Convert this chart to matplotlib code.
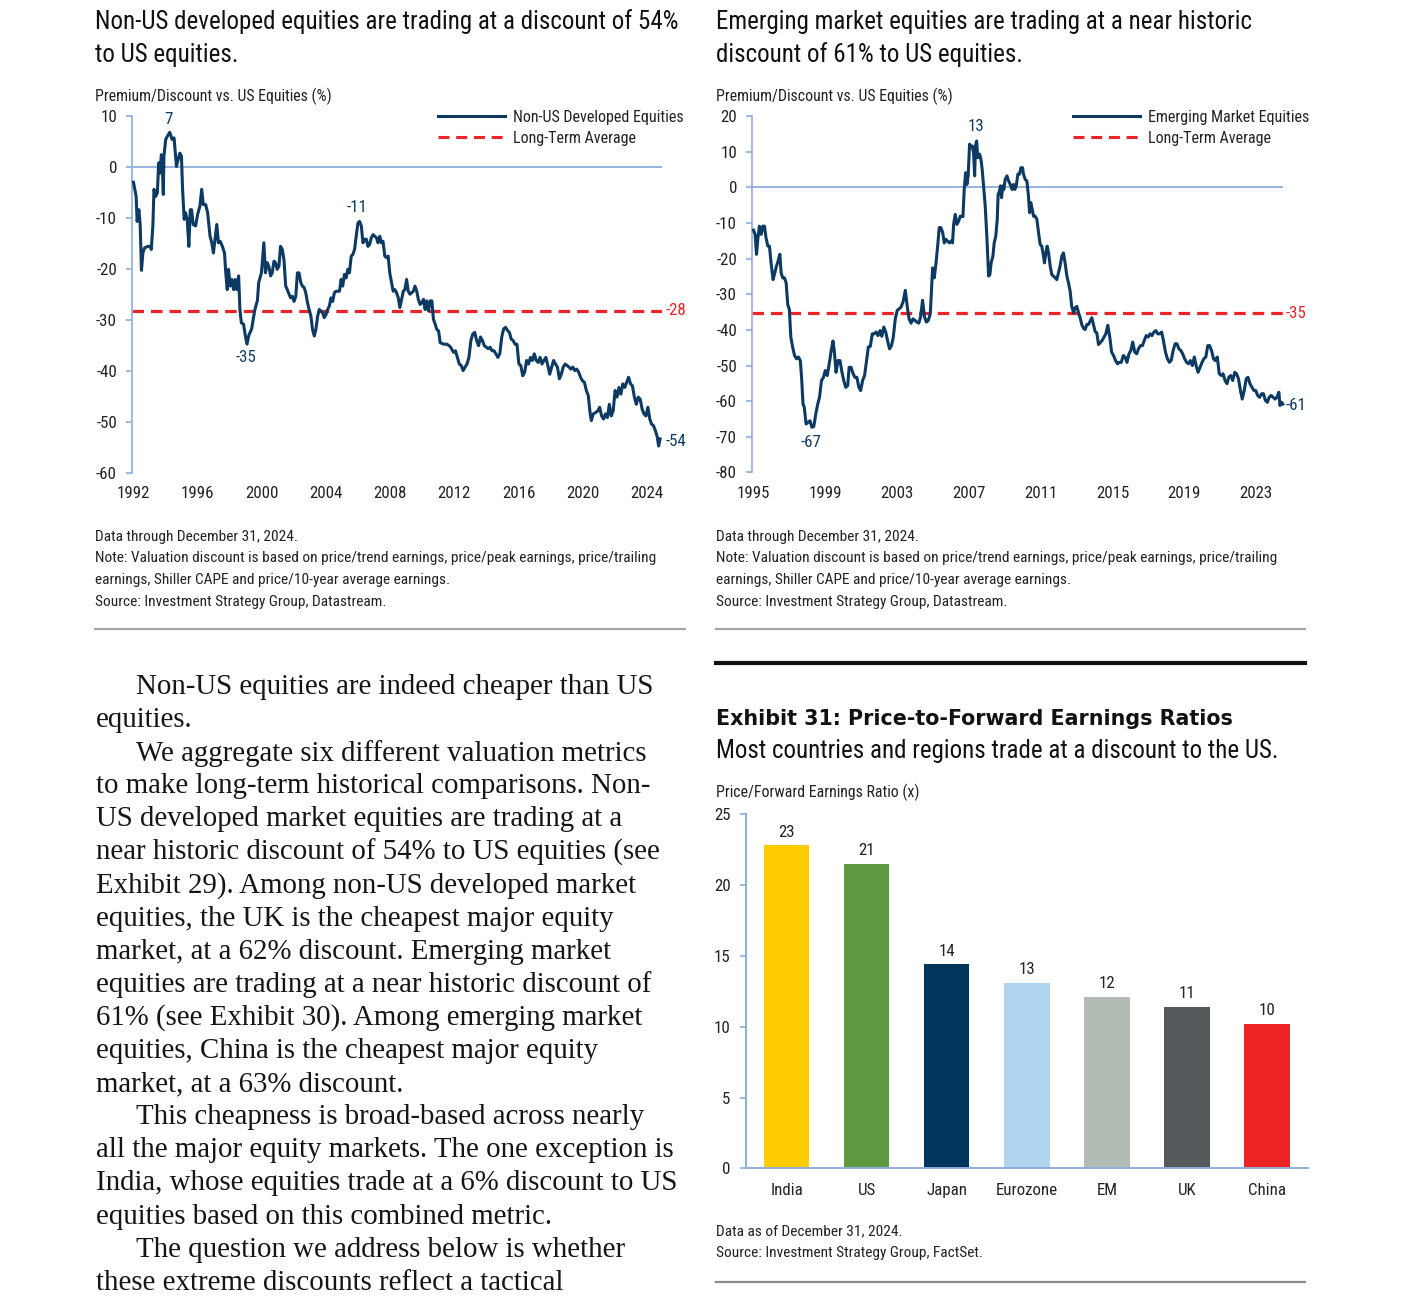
import matplotlib
matplotlib.use('Agg')
import matplotlib.pyplot as plt
from matplotlib import font_manager
from matplotlib.font_manager import FontProperties
from matplotlib.lines import Line2D
from matplotlib.textpath import TextToPath

# page size in pixels
W, H = 1401, 1302

# ---- Exhibit 29: non-US developed vs US (premium/discount, %) ----
dev_years = [
    1992.02, 1992.19, 1992.25, 1992.36, 1992.44, 1992.52, 1992.61, 1992.71, 1992.92, 1993.09,
    1993.13, 1993.23, 1993.30, 1993.40, 1993.51, 1993.59, 1993.67, 1993.76, 1993.84, 1993.88,
    1993.92, 1994.03, 1994.13, 1994.28, 1994.43, 1994.55, 1994.70, 1994.80, 1994.91, 1995.01,
    1995.08, 1995.18, 1995.26, 1995.37, 1995.47, 1995.56, 1995.64, 1995.74, 1995.89, 1996.02,
    1996.16, 1996.27, 1996.37, 1996.52, 1996.64, 1996.79, 1996.90, 1997.00, 1997.10, 1997.21,
    1997.31, 1997.42, 1997.56, 1997.69, 1997.77, 1997.86, 1997.94, 1998.05, 1998.15, 1998.26,
    1998.36, 1998.46, 1998.57, 1998.65, 1998.74, 1998.88, 1998.99, 1999.09, 1999.20, 1999.38,
    1999.57, 1999.74, 1999.82, 1999.99, 2000.14, 2000.24, 2000.35, 2000.45, 2000.56, 2000.66,
    2000.77, 2000.87, 2000.97, 2001.08, 2001.18, 2001.29, 2001.39, 2001.50, 2001.60, 2001.71,
    2001.81, 2001.92, 2002.02, 2002.13, 2002.23, 2002.33, 2002.44, 2002.54, 2002.65, 2002.75,
    2002.86, 2002.96, 2003.07, 2003.17, 2003.28, 2003.38, 2003.49, 2003.59, 2003.69, 2003.80,
    2003.90, 2004.01, 2004.11, 2004.22, 2004.32, 2004.43, 2004.53, 2004.64, 2004.85, 2004.95,
    2005.05, 2005.16, 2005.26, 2005.37, 2005.47, 2005.58, 2005.68, 2005.79, 2005.89, 2006.00,
    2006.10, 2006.21, 2006.31, 2006.41, 2006.52, 2006.62, 2006.73, 2006.83, 2006.94, 2007.04,
    2007.15, 2007.25, 2007.36, 2007.46, 2007.56, 2007.67, 2007.77, 2007.88, 2007.98, 2008.09,
    2008.19, 2008.30, 2008.40, 2008.51, 2008.61, 2008.72, 2008.82, 2008.92, 2009.03, 2009.13,
    2009.24, 2009.34, 2009.45, 2009.55, 2009.66, 2009.76, 2009.87, 2009.97, 2010.08, 2010.18,
    2010.28, 2010.39, 2010.49, 2010.60, 2010.70, 2010.81, 2010.91, 2011.02, 2011.12, 2011.33,
    2011.54, 2011.75, 2011.95, 2012.07, 2012.19, 2012.31, 2012.43, 2012.55, 2012.67, 2012.79,
    2012.91, 2013.03, 2013.15, 2013.27, 2013.39, 2013.51, 2013.63, 2013.75, 2013.87, 2013.99,
    2014.11, 2014.23, 2014.35, 2014.47, 2014.59, 2014.71, 2014.83, 2014.95, 2015.07, 2015.19,
    2015.31, 2015.43, 2015.54, 2015.66, 2015.78, 2015.90, 2016.02, 2016.14, 2016.26, 2016.38,
    2016.50, 2016.62, 2016.74, 2016.86, 2016.98, 2017.10, 2017.22, 2017.34, 2017.46, 2017.58,
    2017.70, 2017.82, 2017.94, 2018.06, 2018.18, 2018.30, 2018.42, 2018.54, 2018.66, 2018.78,
    2018.90, 2019.02, 2019.14, 2019.26, 2019.38, 2019.50, 2019.62, 2019.74, 2019.86, 2019.98,
    2020.10, 2020.22, 2020.34, 2020.46, 2020.53, 2020.65, 2020.81, 2020.93, 2021.05, 2021.17,
    2021.29, 2021.41, 2021.53, 2021.65, 2021.77, 2021.89, 2022.01, 2022.13, 2022.25, 2022.37,
    2022.49, 2022.61, 2022.73, 2022.85, 2022.97, 2023.09, 2023.21, 2023.33, 2023.45, 2023.57,
    2023.69, 2023.81, 2023.93, 2024.05, 2024.17, 2024.28, 2024.40, 2024.52, 2024.64, 2024.72,
    2024.81,
]
dev_values = [
    -3.0, -5.8, -10.7, -8.4, -11.3, -20.3, -16.9, -15.9, -15.6, -15.6,
    -16.2, -11.6, -4.4, -5.8, -5.1, 0.8, -1.2, 2.4, -1.8, -5.4,
    2.1, 5.4, 6.0, 6.8, 5.4, 5.7, 0.1, 1.4, 2.7, 2.1,
    -4.4, -10.3, -9.0, -10.3, -15.6, -8.4, -8.4, -11.3, -11.6, -9.3,
    -7.7, -4.4, -7.4, -7.4, -9.0, -13.6, -14.9, -16.9, -14.2, -11.3,
    -14.9, -14.6, -15.6, -16.9, -20.8, -24.1, -20.1, -23.4, -22.1, -24.1,
    -22.1, -24.1, -21.4, -28.0, -30.6, -30.9, -33.2, -34.8, -33.1, -31.8,
    -28.2, -26.2, -22.7, -20.8, -14.9, -20.8, -18.8, -19.5, -21.4, -20.8,
    -18.5, -18.8, -20.1, -19.5, -15.6, -16.2, -18.2, -23.4, -24.1, -25.0,
    -25.7, -25.4, -26.4, -25.4, -20.8, -20.8, -22.7, -23.4, -23.7, -24.7,
    -26.7, -28.0, -29.3, -31.9, -33.2, -31.9, -29.3, -28.0, -28.3, -28.6,
    -29.6, -29.0, -28.0, -27.3, -25.7, -26.4, -24.7, -24.4, -24.4, -22.1,
    -23.4, -21.1, -21.8, -20.1, -20.8, -17.5, -17.2, -16.2, -13.6, -11.0,
    -10.7, -11.6, -14.9, -14.2, -14.2, -15.6, -15.2, -13.9, -13.3, -13.6,
    -13.9, -14.9, -13.6, -14.9, -14.6, -17.5, -17.8, -17.5, -20.8, -22.7,
    -24.4, -24.1, -24.7, -25.7, -27.6, -26.0, -24.4, -24.1, -22.1, -24.4,
    -25.0, -24.7, -24.4, -23.4, -24.4, -26.0, -27.0, -26.7, -26.0, -28.0,
    -26.3, -28.3, -26.3, -26.3, -29.9, -30.9, -31.9, -32.2, -34.5, -34.8,
    -34.8, -35.3, -36.4, -36.1, -37.4, -38.7, -39.0, -40.0, -39.3, -38.7,
    -37.4, -34.1, -32.8, -32.5, -34.1, -35.1, -33.4, -34.1, -35.1, -35.4,
    -35.7, -35.4, -36.1, -36.1, -36.7, -37.4, -36.7, -33.4, -31.8, -31.5,
    -32.1, -32.5, -33.8, -34.1, -34.8, -34.8, -38.7, -39.0, -41.0, -40.3,
    -38.0, -38.7, -37.4, -38.0, -36.7, -38.0, -38.4, -37.4, -38.7, -38.0,
    -37.4, -39.0, -40.7, -39.3, -38.0, -38.7, -39.3, -41.6, -40.7, -39.3,
    -38.7, -39.0, -39.3, -39.7, -39.3, -40.0, -39.7, -40.3, -41.3, -42.0,
    -42.3, -43.9, -44.9, -48.5, -49.8, -48.5, -48.2, -47.9, -47.2, -48.9,
    -49.5, -48.5, -49.2, -46.6, -48.9, -47.9, -43.9, -45.2, -43.3, -44.6,
    -42.6, -43.3, -42.3, -41.3, -42.6, -43.0, -45.2, -46.6, -45.2, -45.6,
    -47.5, -48.5, -48.9, -47.2, -49.5, -50.5, -50.8, -51.8, -53.1, -54.8,
    -53.4,
]
dev_average = -28.2

# ---- Exhibit 30: emerging markets vs US (premium/discount, %) ----
em_years = [
    1995.00, 1995.09, 1995.17, 1995.24, 1995.33, 1995.43, 1995.52, 1995.61, 1995.70, 1995.80,
    1995.89, 1995.98, 1996.09, 1996.19, 1996.28, 1996.37, 1996.47, 1996.54, 1996.63, 1996.73,
    1996.82, 1996.91, 1997.00, 1997.08, 1997.18, 1997.29, 1997.40, 1997.50, 1997.61, 1997.68,
    1997.76, 1997.83, 1997.93, 1998.04, 1998.15, 1998.25, 1998.36, 1998.47, 1998.58, 1998.68,
    1998.79, 1998.90, 1999.00, 1999.11, 1999.22, 1999.33, 1999.43, 1999.50, 1999.60, 1999.71,
    1999.82, 1999.93, 2000.03, 2000.14, 2000.25, 2000.33, 2000.44, 2000.55, 2000.65, 2000.76,
    2000.87, 2000.97, 2001.08, 2001.19, 2001.30, 2001.40, 2001.51, 2001.62, 2001.72, 2001.83,
    2001.94, 2002.05, 2002.15, 2002.26, 2002.37, 2002.47, 2002.58, 2002.69, 2002.79, 2002.90,
    2003.01, 2003.12, 2003.22, 2003.33, 2003.46, 2003.57, 2003.67, 2003.78, 2003.89, 2003.99,
    2004.10, 2004.21, 2004.31, 2004.42, 2004.53, 2004.63, 2004.74, 2004.85, 2004.98, 2005.07,
    2005.17, 2005.26, 2005.35, 2005.44, 2005.54, 2005.63, 2005.72, 2005.81, 2005.91, 2006.00,
    2006.09, 2006.15, 2006.24, 2006.33, 2006.43, 2006.52, 2006.67, 2006.74, 2006.82, 2006.89,
    2006.96, 2007.04, 2007.11, 2007.19, 2007.26, 2007.32, 2007.37, 2007.43, 2007.50, 2007.60,
    2007.67, 2007.74, 2007.82, 2007.91, 2008.00, 2008.10, 2008.17, 2008.24, 2008.34, 2008.41,
    2008.50, 2008.58, 2008.63, 2008.71, 2008.76, 2008.82, 2008.89, 2008.95, 2009.02, 2009.12,
    2009.21, 2009.26, 2009.34, 2009.41, 2009.49, 2009.56, 2009.64, 2009.73, 2009.82, 2009.90,
    2009.99, 2010.04, 2010.14, 2010.23, 2010.32, 2010.38, 2010.45, 2010.53, 2010.60, 2010.69,
    2010.79, 2010.88, 2010.97, 2011.06, 2011.16, 2011.21, 2011.29, 2011.36, 2011.44, 2011.53,
    2011.62, 2011.71, 2011.81, 2011.90, 2011.99, 2012.08, 2012.18, 2012.27, 2012.36, 2012.46,
    2012.55, 2012.64, 2012.73, 2012.83, 2012.92, 2013.01, 2013.11, 2013.20, 2013.29, 2013.38,
    2013.48, 2013.57, 2013.66, 2013.75, 2013.85, 2013.94, 2014.03, 2014.13, 2014.22, 2014.42,
    2014.53, 2014.63, 2014.74, 2014.85, 2014.95, 2015.06, 2015.17, 2015.28, 2015.38, 2015.49,
    2015.60, 2015.70, 2015.81, 2015.92, 2016.02, 2016.13, 2016.24, 2016.35, 2016.45, 2016.56,
    2016.67, 2016.77, 2016.88, 2016.99, 2017.10, 2017.20, 2017.31, 2017.42, 2017.52, 2017.63,
    2017.74, 2017.84, 2017.95, 2018.06, 2018.17, 2018.27, 2018.38, 2018.49, 2018.59, 2018.70,
    2018.81, 2018.91, 2019.02, 2019.13, 2019.24, 2019.34, 2019.45, 2019.56, 2019.66, 2019.77,
    2019.88, 2019.99, 2020.09, 2020.20, 2020.31, 2020.41, 2020.52, 2020.63, 2020.73, 2020.84,
    2020.95, 2021.06, 2021.16, 2021.27, 2021.38, 2021.48, 2021.59, 2021.70, 2021.81, 2021.91,
    2022.02, 2022.13, 2022.23, 2022.34, 2022.45, 2022.55, 2022.66, 2022.77, 2022.88, 2022.98,
    2023.09, 2023.20, 2023.31, 2023.41, 2023.52, 2023.63, 2023.73, 2023.84, 2023.95, 2024.06,
    2024.16, 2024.27, 2024.33, 2024.42, 2024.49,
]
em_values = [
    -12.0, -13.2, -18.8, -14.6, -10.9, -13.2, -10.9, -10.9, -14.2, -16.5,
    -16.5, -21.2, -25.9, -24.0, -22.1, -20.7, -18.8, -24.0, -25.4, -25.4,
    -26.8, -32.9, -34.3, -42.0, -44.8, -47.2, -48.1, -47.6, -48.6, -53.3,
    -60.8, -61.7, -66.4, -65.9, -65.5, -67.3, -67.1, -63.6, -60.8, -58.9,
    -54.2, -53.3, -51.4, -52.8, -49.5, -45.8, -43.1, -45.8, -51.9, -48.6,
    -48.6, -51.9, -54.2, -56.1, -55.6, -50.5, -50.5, -52.3, -53.3, -53.3,
    -56.1, -57.0, -54.2, -52.8, -48.6, -44.8, -44.6, -41.1, -41.1, -40.6,
    -41.6, -40.2, -41.8, -39.2, -40.6, -43.0, -45.3, -44.4, -42.0, -36.9,
    -34.5, -34.1, -33.6, -32.2, -28.9, -33.6, -36.9, -38.1, -36.9, -37.3,
    -37.8, -38.1, -36.4, -31.7, -36.4, -37.8, -37.3, -35.5, -22.6, -25.4,
    -21.2, -16.5, -11.3, -11.3, -12.7, -15.6, -14.6, -15.1, -15.6, -15.1,
    -15.6, -10.4, -7.6, -10.4, -9.5, -8.1, -8.2, -0.6, 4.1, 0.8,
    3.2, 12.1, 11.2, 11.6, 9.7, 3.2, 11.6, 13.0, 8.3, 9.3,
    7.9, 5.1, 0.4, -5.2, -13.7, -24.9, -24.5, -21.2, -19.3, -15.6,
    -13.7, -9.0, -2.0, -1.0, 0.4, -2.9, 0.4, -0.6, 2.2, 3.2,
    1.8, 1.3, 0.4, -0.6, 0.8, -0.6, 0.4, 3.7, 3.7, 5.5,
    5.5, 3.7, 2.2, 1.8, -2.4, -7.1, -4.3, -6.2, -8.1, -8.1,
    -9.0, -12.7, -16.0, -16.5, -19.3, -21.2, -18.4, -16.5, -18.4, -22.1,
    -24.5, -24.9, -25.4, -25.9, -24.0, -22.1, -19.3, -18.4, -21.2, -24.9,
    -26.8, -29.1, -33.4, -35.2, -33.8, -33.4, -35.2, -36.6, -38.5, -39.5,
    -39.9, -38.5, -38.5, -37.6, -36.6, -38.5, -40.4, -40.9, -44.1, -43.0,
    -42.0, -41.1, -38.7, -42.0, -46.2, -47.2, -48.6, -49.5, -49.1, -49.1,
    -47.2, -47.6, -49.1, -46.7, -45.8, -43.4, -46.2, -46.7, -45.3, -44.4,
    -44.4, -43.0, -41.6, -42.0, -41.1, -41.6, -40.6, -40.2, -41.1, -41.1,
    -40.6, -43.0, -46.2, -48.1, -49.1, -48.6, -45.8, -43.9, -43.9, -45.3,
    -45.8, -46.7, -48.1, -49.1, -49.5, -48.6, -50.0, -47.6, -50.0, -51.9,
    -50.5, -49.1, -48.1, -47.6, -44.4, -44.4, -45.8, -48.1, -48.6, -47.6,
    -52.3, -52.8, -52.3, -54.2, -55.1, -53.3, -52.8, -54.2, -51.9, -52.3,
    -53.7, -57.0, -59.4, -57.0, -53.7, -53.3, -55.1, -56.1, -57.0, -57.0,
    -58.4, -58.9, -57.9, -57.9, -59.8, -60.3, -58.9, -58.4, -58.9, -59.4,
    -58.9, -57.5, -61.2, -60.3, -60.8,
]
em_average = -35.3

# ---- Exhibit 31: price / forward earnings ----
countries = ['India', 'US', 'Japan', 'Eurozone', 'EM', 'UK', 'China']
pe_ratios = [22.8, 21.5, 14.4, 13.1, 12.1, 11.4, 10.2]
pe_labels = ['23', '21', '14', '13', '12', '11', '10']
bar_colors = ['#FFCC00', '#5E9941', '#00365E', '#AED4F0', '#B2BBB4', '#56595C', '#EE2326']

NAVY = '#0c3a63'
RED = '#ec2329'
AXIS = '#8eaedc'
TXT = '#222222'


def find_font(family, stretch='normal', must=None):
    try:
        path = font_manager.findfont(FontProperties(family=family, stretch=stretch),
                                     fallback_to_default=False)
    except Exception:
        return False
    return must is None or must.lower() in path.lower()


# a narrow sans is closest to the original; fall back to Roboto
SANS, STRETCH = 'Roboto', 'normal'
for fam, st, must in [('Liberation Sans Narrow', 'normal', None),
                      ('Liberation Sans', 'condensed', 'narrow'),
                      ('Roboto Condensed', 'normal', None),
                      ('Noto Sans', 'condensed', 'condensed'),
                      ('DejaVu Sans', 'condensed', 'condensed')]:
    if find_font(fam, st, must):
        SANS, STRETCH = fam, st
        break
SERIF = 'Liberation Serif' if find_font('Liberation Serif') else 'DejaVu Serif'

plt.rcParams['font.family'] = SANS
plt.rcParams['font.stretch'] = STRETCH
plt.rcParams['text.color'] = TXT
plt.rcParams['axes.unicode_minus'] = False

_ttp = TextToPath()


def fit(s, px, **props):
    # font size (pt) that makes string s about px pixels wide at dpi 100
    fp = FontProperties(size=10, **props)
    w, _, _ = _ttp.get_text_width_height_descent(s, fp, ismath=False)
    return 10 * px / (w * 100 / 72)


sans = dict(family=SANS, stretch=STRETCH)
TITLE_FS = fit('Non-US developed equities are trading at a discount of 54%', 583, **sans)
K = TITLE_FS / 17.0
NOTE_FS = fit('Note: Valuation discount is based on price/trend earnings, price/peak earnings, price/trailing', 562, **sans)
LABEL_FS = fit('Premium/Discount vs. US Equities (%)', 237, **sans)
LEG_FS = fit('Non-US Developed Equities', 171, **sans)
TICK_FS = 11.5 * K
BODY_FS = fit('all the major equity markets. The one exception is', 578, family=SERIF)
BOLD_FS = fit('Exhibit 31: Price-to-Forward Earnings Ratios', 516, family='DejaVu Sans', weight='bold')

fig = plt.figure(figsize=(W / 100, H / 100), dpi=100)


def put(x, y, s, **kw):
    kw.setdefault('va', 'center')
    fig.text(x / W, 1 - y / H, s, **kw)


def rule(x0, x1, y, color, lw):
    fig.add_artist(Line2D([x0 / W, x1 / W], [1 - y / H, 1 - y / H], color=color, lw=lw))


def px_axes(left, top, right, bottom):
    return fig.add_axes([left / W, 1 - bottom / H, (right - left) / W, (bottom - top) / H])


def style_line_axes(ax):
    for side in ('top', 'right', 'bottom'):
        ax.spines[side].set_visible(False)
    ax.spines['left'].set_color(AXIS)
    ax.spines['left'].set_linewidth(1.2)
    ax.tick_params(axis='y', direction='out', length=4, width=1.2, color=AXIS,
                   labelsize=TICK_FS, labelcolor=TXT, pad=6.5)
    ax.tick_params(axis='x', length=0, labelsize=TICK_FS, labelcolor=TXT, pad=9.5)
    ax.set_facecolor('none')


def line_chart(ax, years, values, avg, ylim, xlim, xticks):
    ax.axhline(0, color=AXIS, lw=1.3, zorder=1)
    ax.axhline(avg, color=RED, lw=2.3, ls=(0, (3.6, 2.2)), zorder=2)
    ax.plot(years, values, color=NAVY, lw=2.2, zorder=3, solid_joinstyle='round', clip_on=False)
    ax.set_xlim(*xlim)
    ax.set_ylim(*ylim)
    ax.set_yticks(range(ylim[0], ylim[1] + 1, 10))
    ax.set_xticks(xticks)
    ax.set_xticklabels([str(y) for y in xticks])
    style_line_axes(ax)


def legend(x, y, label):
    handles = [Line2D([], [], color=NAVY, lw=2.2),
               Line2D([], [], color=RED, lw=2.2, ls=(0, (3.6, 2.2)))]
    fig.legend(handles, [label, 'Long-Term Average'], loc='upper left',
               bbox_to_anchor=(x / W, 1 - y / H), frameon=False, borderpad=0,
               borderaxespad=0, handlelength=48 / LEG_FS, handletextpad=5.8 / LEG_FS,
               labelspacing=0.36, prop={'family': SANS, 'stretch': STRETCH, 'size': LEG_FS})


ANN_FS = TICK_FS
ann = dict(fontsize=ANN_FS, color=NAVY, ha='center', va='center')

# ---------- left chart ----------
put(95, 22, 'Non-US developed equities are trading at a discount of 54%', fontsize=TITLE_FS, color='#111111')
put(95, 55, 'to US equities.', fontsize=TITLE_FS, color='#111111')
put(95, 96, 'Premium/Discount vs. US Equities (%)', fontsize=LABEL_FS)

ax1 = px_axes(131.5, 116, 662, 472.5)
line_chart(ax1, dev_years, dev_values, dev_average,
           (-60, 10), (1991.90, 2024.93), list(range(1992, 2025, 4)))
legend(438, 110, 'Non-US Developed Equities')
ax1.text(1994.18, 9.3, '7', **ann)
ax1.text(2005.95, -8.0, '-11', **ann)
ax1.text(1999.04, -37.4, '-35', **ann)
ax1.text(2025.13, -53.9, '-54', fontsize=ANN_FS, color=NAVY, ha='left', va='center', clip_on=False)
ax1.text(2025.13, dev_average, '-28', fontsize=ANN_FS, color=RED, ha='left', va='center', clip_on=False)

# ---------- right chart ----------
put(716, 22, 'Emerging market equities are trading at a near historic', fontsize=TITLE_FS, color='#111111')
put(716, 55, 'discount of 61% to US equities.', fontsize=TITLE_FS, color='#111111')
put(716, 96, 'Premium/Discount vs. US Equities (%)', fontsize=LABEL_FS)

ax2 = px_axes(751.5, 116, 1283, 472.5)
line_chart(ax2, em_years, em_values, em_average,
           (-80, 20), (1994.89, 2024.50), list(range(1995, 2024, 4)))
legend(1073, 110, 'Emerging Market Equities')
ax2.text(2007.40, 17.1, '13', **ann)
ax2.text(1998.20, -71.6, '-67', **ann)
ax2.text(2024.62, -61.2, '-61', fontsize=ANN_FS, color=NAVY, ha='left', va='center', clip_on=False)
ax2.text(2024.62, em_average, '-35', fontsize=ANN_FS, color=RED, ha='left', va='center', clip_on=False)

# ---------- notes under both line charts ----------
notes = ['Data through December 31, 2024.',
         'Note: Valuation discount is based on price/trend earnings, price/peak earnings, price/trailing',
         'earnings, Shiller CAPE and price/10-year average earnings.',
         'Source: Investment Strategy Group, Datastream.']
for x0 in (95, 716):
    for i, s in enumerate(notes):
        put(x0, 536.5 + i * 21.7, s, fontsize=NOTE_FS)
rule(95, 685, 628.5, '#a6a6a6', 1.6)
rule(716, 1305, 628.5, '#a6a6a6', 1.6)

# ---------- body text ----------
body = [
    (True, 'Non-US equities are indeed cheaper than US'),
    (False, 'equities.'),
    (True, 'We aggregate six different valuation metrics'),
    (False, 'to make long-term historical comparisons. Non-'),
    (False, 'US developed market equities are trading at a'),
    (False, 'near historic discount of 54% to US equities (see'),
    (False, 'Exhibit 29). Among non-US developed market'),
    (False, 'equities, the UK is the cheapest major equity'),
    (False, 'market, at a 62% discount. Emerging market'),
    (False, 'equities are trading at a near historic discount of'),
    (False, '61% (see Exhibit 30). Among emerging market'),
    (False, 'equities, China is the cheapest major equity'),
    (False, 'market, at a 63% discount.'),
    (True, 'This cheapness is broad-based across nearly'),
    (False, 'all the major equity markets. The one exception is'),
    (False, 'India, whose equities trade at a 6% discount to US'),
    (False, 'equities based on this combined metric.'),
    (True, 'The question we address below is whether'),
    (False, 'these extreme discounts reflect a tactical'),
]
for i, (indent, s) in enumerate(body):
    put(136 if indent else 96, 687 + i * 33.1, s, family=SERIF, stretch='normal',
        fontsize=BODY_FS, color='#151515')

# ---------- Exhibit 31 ----------
rule(716, 1305, 662.5, '#111111', 3.0)
put(716, 719, 'Exhibit 31: Price-to-Forward Earnings Ratios', family='DejaVu Sans', stretch='normal',
    fontweight='bold', fontsize=BOLD_FS, color='#111111')
put(716, 751, 'Most countries and regions trade at a discount to the US.', fontsize=TITLE_FS, color='#111111')
put(716, 792, 'Price/Forward Earnings Ratio (x)', fontsize=LABEL_FS)

ax3 = px_axes(745.7, 814.3, 1308, 1168.3)
pos = list(range(len(countries)))
bars = ax3.bar(pos, pe_ratios, width=0.567, color=bar_colors, zorder=2)
for rect, lab in zip(bars, pe_labels):
    ax3.annotate(lab, (rect.get_x() + rect.get_width() / 2, rect.get_height()),
                 xytext=(0, 9.5), textcoords='offset points', ha='center', va='center',
                 fontsize=TICK_FS, color=TXT)
ax3.set_xlim(-0.51, 6.51)
ax3.set_ylim(0, 25)
ax3.set_yticks([0, 5, 10, 15, 20, 25])
ax3.set_xticks(pos)
ax3.set_xticklabels(countries)
for side in ('top', 'right'):
    ax3.spines[side].set_visible(False)
for side in ('left', 'bottom'):
    ax3.spines[side].set_color(AXIS)
    ax3.spines[side].set_linewidth(1.4)
ax3.tick_params(axis='y', direction='out', length=4.5, width=1.2, color=AXIS,
                labelsize=TICK_FS, labelcolor=TXT, pad=6.5)
ax3.tick_params(axis='x', length=0, labelsize=TICK_FS, labelcolor=TXT, pad=10.5)
ax3.set_facecolor('none')

put(716, 1231.5, 'Data as of December 31, 2024.', fontsize=NOTE_FS)
put(716, 1253, 'Source: Investment Strategy Group, FactSet.', fontsize=NOTE_FS)
rule(716, 1305, 1282, '#8c8c8c', 1.6)

fig.savefig('out.png', dpi=100)
